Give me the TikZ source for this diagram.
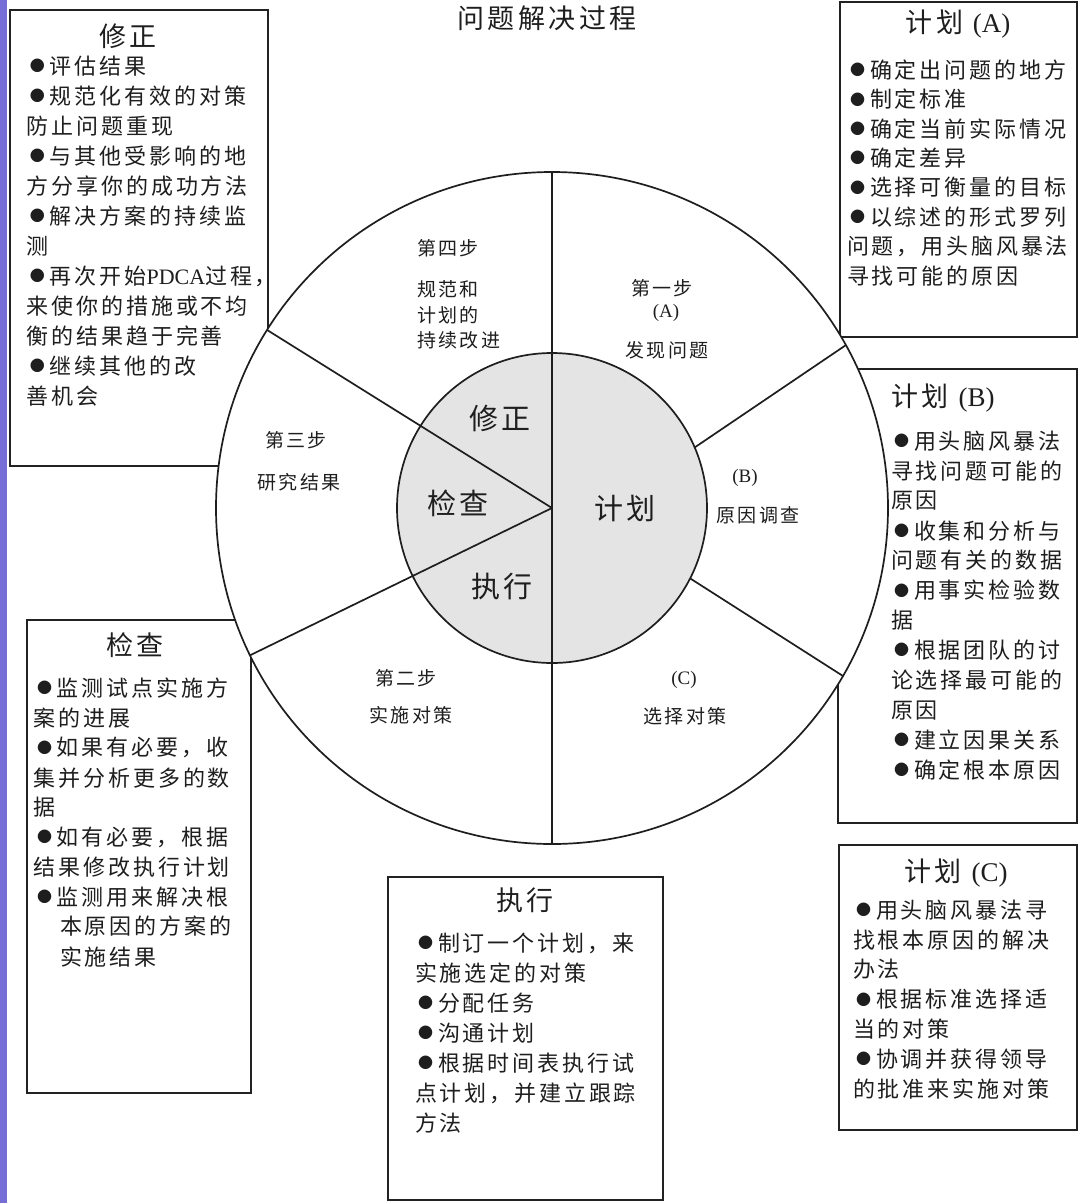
\documentclass[tikz,border=0pt]{standalone}
\usepackage{fontspec}
\newfontfamily\cjk[LetterSpace=13]{Noto Sans CJK SC}
\newfontfamily\cjkb{Noto Sans CJK SC}
\newfontfamily\lat{Liberation Serif}
\newcommand\mybul{\makebox[23pt][l]{\hspace{3pt}\raisebox{2.7pt}{\cjkb\fontsize{15}{15}\selectfont ●}}}
\definecolor{ink}{HTML}{1E1E1E}
\definecolor{boxc}{HTML}{222222}
\definecolor{barc}{HTML}{766DD6}
\definecolor{discc}{HTML}{E4E4E4}
\begin{document}
\begin{tikzpicture}[x=1pt,y=-1pt,
  ln/.style={draw=ink,line width=1.7pt},
  txt/.style={inner sep=0pt,outer sep=0pt,text=ink,anchor=west,font=\cjk\fontsize{22}{26}\selectfont},
  lbl/.style={inner sep=0pt,outer sep=0pt,text=ink,font=\cjk\fontsize{19}{23}\selectfont},
  ttl/.style={inner sep=0pt,outer sep=0pt,text=ink,font=\cjk\fontsize{27}{32}\selectfont},
  big/.style={inner sep=0pt,outer sep=0pt,text=ink,font=\cjk\fontsize{29}{34}\selectfont},
  frame/.style={draw=boxc,line width=2pt,inner sep=0pt,outer sep=0pt,anchor=north west}]
\useasboundingbox (0,0) rectangle (1079,1203);
\fill[white] (0,0) rectangle (1079,1203);
\fill[barc] (0,0) rectangle (7,1203);

% boxes (drawn first; the wheel covers them)
\node[frame,minimum width=258pt,minimum height=456pt] (bxz) at (10,10) {};
\node[frame,minimum width=237pt,minimum height=335pt] (bja) at (840,2) {};
\node[frame,minimum width=239pt,minimum height=454pt] (bjb) at (838,369) {};
\node[frame,minimum width=224pt,minimum height=473pt] (bjc) at (27,620) {};
\node[frame,minimum width=275pt,minimum height=323pt] (bzx) at (388,877) {};
\node[frame,minimum width=238pt,minimum height=285pt] (bjd) at (839,845) {};

% title
\node[ttl] (title) at (547,18) {问题解决过程};

% wheel
\coordinate (c) at (552,508);
\node[circle,fill=white,draw=ink,line width=1.7pt,minimum size=672pt,inner sep=0pt,outer sep=0pt] (outer) at (c) {};
\node[circle,fill=discc,draw=ink,line width=1.7pt,minimum size=310pt,inner sep=0pt,outer sep=0pt] (inner) at (c) {};
\draw[ln] (outer.90) -- (outer.270);
\draw[ln] (c) -- (outer.148.4);
\draw[ln] (c) -- (outer.206.3);
\draw[ln] (inner.23.3) -- (outer.29);
\draw[ln] (inner.-27.7) -- (outer.-30.2);

% inner labels
\node[big] (lxz) at (500,418) {修正};
\node[big] (ljc) at (458,503) {检查};
\node[big] (ljh) at (625,508) {计划};
\node[big] (lzx) at (502,586) {执行};

% ring labels
\node[lbl,anchor=west] (s4a) at (417,248) {第四步};
\node[lbl,anchor=west] (s4b) at (417,289) {规范和};
\node[lbl,anchor=west] (s4c) at (417,315) {计划的};
\node[lbl,anchor=west] (s4d) at (417,340) {持续改进};
\node[lbl] (s1a) at (662,288) {第一步};
\node[lbl] (s1b) at (666,313) {\lat (A)};
\node[lbl] (s1c) at (667,350) {发现问题};
\node[lbl] (sba) at (745,478) {\lat (B)};
\node[lbl] (sbb) at (758,515) {原因调查};
\node[lbl] (sca) at (684,680) {\lat (C)};
\node[lbl] (scb) at (685,716) {选择对策};
\node[lbl] (s2a) at (406,678) {第二步};
\node[lbl] (s2b) at (411,715) {实施对策};
\node[lbl] (s3a) at (296,440) {第三步};
\node[lbl] (s3b) at (299,482) {研究结果};

% box titles
\node[ttl] (txz) at (128,36) {修正};
\node[ttl] (tja) at (958,24) {计划 {\lat (A)}};
\node[ttl] (tjb) at (943,398) {计划 {\lat (B)}};
\node[ttl] (tjc) at (135,645) {检查};
\node[ttl] (tzx) at (525,900) {执行};
\node[ttl] (tjd) at (956,873) {计划 {\lat (C)}};

% box texts
\foreach \mytext [count=\i] in {\mybul 评估结果,\mybul 规范化有效的对策,防止问题重现,\mybul 与其他受影响的地,方分享你的成功方法,\mybul 解决方案的持续监,测,{\mybul 再次开始{\lat PDCA}过程，},来使你的措施或不均,衡的结果趋于完善,\mybul 继续其他的改,善机会}
  \node[txt] (xz\i) at (27,{66+30*(\i-1)}) {\mytext};

\foreach \mytext [count=\i] in {\mybul 确定出问题的地方,\mybul 制定标准,\mybul 确定当前实际情况,\mybul 确定差异,\mybul 选择可衡量的目标,\mybul 以综述的形式罗列,问题，用头脑风暴法,寻找可能的原因}
  \node[txt] (ja\i) at (847,{70+29.4*(\i-1)}) {\mytext};

\foreach \mytext [count=\i] in {\mybul 用头脑风暴法,寻找问题可能的,原因,\mybul 收集和分析与,问题有关的数据,\mybul 用事实检验数,据,\mybul 根据团队的讨,论选择最可能的,原因,\mybul 建立因果关系,\mybul 确定根本原因}
  \node[txt] (jb\i) at (891,{441+29.9*(\i-1)}) {\mytext};

\foreach \mytext [count=\i] in {\mybul 监测试点实施方,案的进展,\mybul 如果有必要，收,集并分析更多的数,据,\mybul 如有必要，根据,结果修改执行计划,\mybul 监测用来解决根}
  \node[txt] (jc\i) at (34,{688+29.9*(\i-1)}) {\mytext};
\node[txt] (jc9) at (60,926) {本原因的方案的};
\node[txt] (jc10) at (60,957) {实施结果};

\foreach \mytext [count=\i] in {\mybul 制订一个计划，来,实施选定的对策,\mybul 分配任务,\mybul 沟通计划,\mybul 根据时间表执行试,点计划，并建立跟踪,方法}
  \node[txt] (zx\i) at (415,{943+30*(\i-1)}) {\mytext};

\foreach \mytext [count=\i] in {\mybul 用头脑风暴法寻,找根本原因的解决,办法,\mybul 根据标准选择适,当的对策,\mybul 协调并获得领导,的批准来实施对策}
  \node[txt] (jd\i) at (853,{910+29.8*(\i-1)}) {\mytext};
\end{tikzpicture}
\end{document}
